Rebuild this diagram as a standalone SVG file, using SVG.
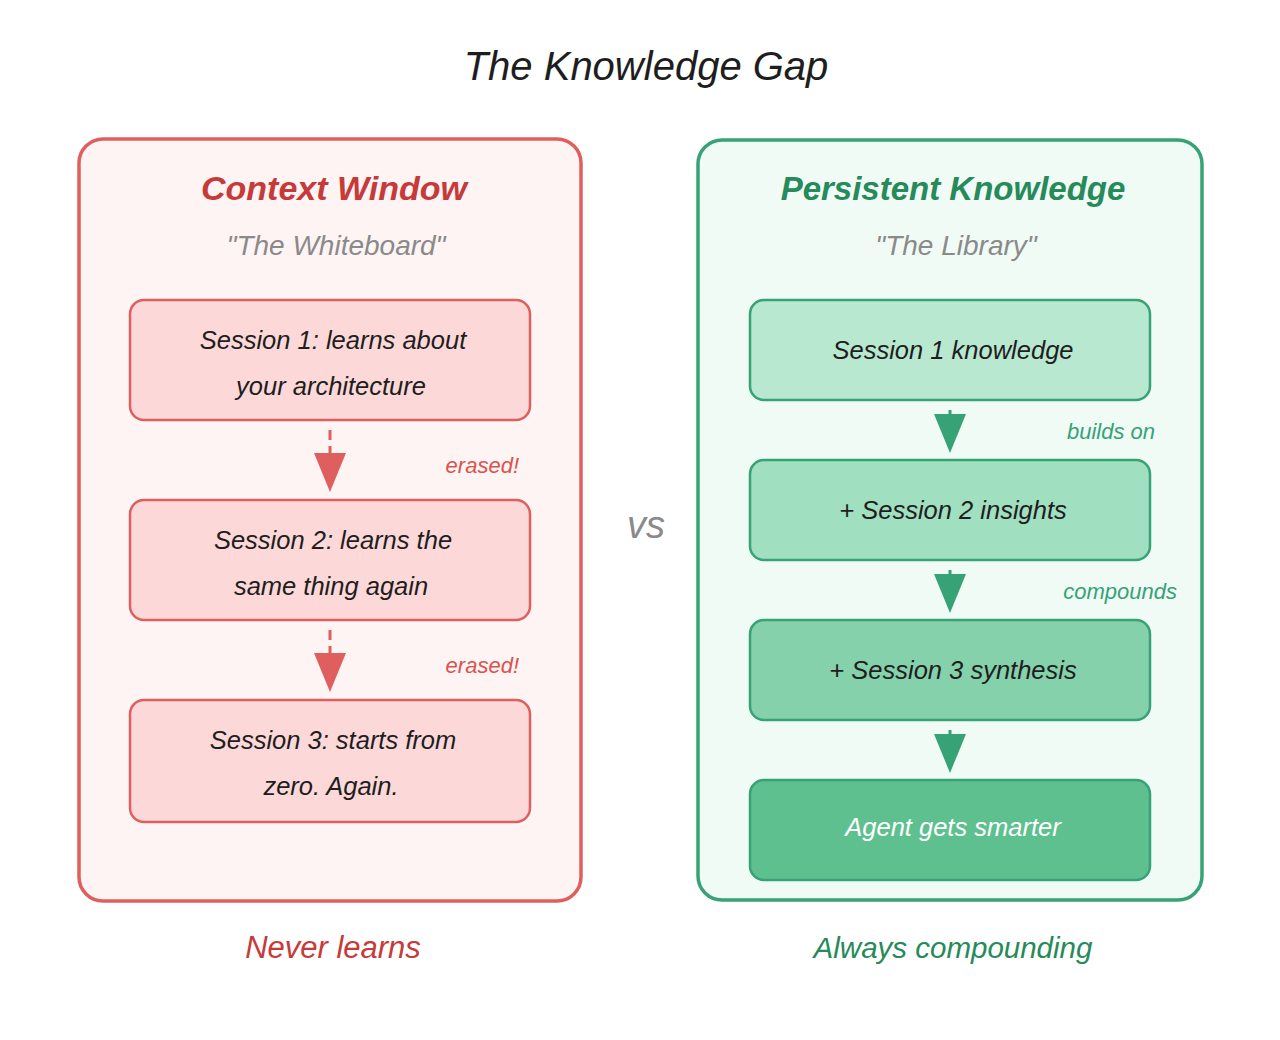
<svg xmlns="http://www.w3.org/2000/svg" width="1280" height="1040" viewBox="0 0 1280 1040">
<style>
text{font-family:"Liberation Sans","Noto Sans",Arial,sans-serif;font-style:italic;text-anchor:middle}
.title{font-size:40px;fill:#1e1e1e}
.redh{font-size:34px;fill:#c63a3a;font-weight:bold}
.greenh{font-size:33px;fill:#268a5a;font-weight:bold}
.sub{font-size:28px;fill:#8a8a8a}
.body{font-size:25.5px;fill:#1e1e1e}
.rlab{font-size:22px;fill:#d9534f;text-anchor:end}
.glab{font-size:22px;fill:#36a276;text-anchor:end}
.rfoot{font-size:31px;fill:#c63a3a}
.gfoot{font-size:29.5px;fill:#268a5a}
.vs{font-size:38px;fill:#8a8a8a}
.rbox{fill:#fdd8d8;stroke:#df5f5f;stroke-width:2.5}
.gbox{stroke:#36a276;stroke-width:2.5}
.rhead{fill:#df5f5f}
.ghead{fill:#36a276}
</style>
<rect width="1280" height="1040" fill="#ffffff"/>
<text class="title" x="646" y="80">The Knowledge Gap</text>

<g id="left-panel">
<rect x="79" y="139" width="502" height="762" rx="24" fill="#fff4f4" stroke="#df5f5f" stroke-width="3.5"/>
<text class="redh" x="334" y="200">Context Window</text>
<text class="sub" x="336" y="255">"The Whiteboard"</text>
</g>
<g id="r1">
<rect class="rbox" x="130" y="300" width="400" height="120" rx="14"/>
<text class="body" x="333" y="349">Session 1: learns about</text>
<text class="body" x="331" y="395">your architecture</text>
</g>
<g id="r2">
<rect class="rbox" x="130" y="500" width="400" height="120" rx="14"/>
<text class="body" x="333" y="549">Session 2: learns the</text>
<text class="body" x="331" y="595">same thing again</text>
</g>
<g id="r3">
<rect class="rbox" x="130" y="700" width="400" height="122" rx="14"/>
<text class="body" x="333" y="749">Session 3: starts from</text>
<text class="body" x="331" y="795">zero. Again.</text>
</g>
<g id="right-panel">
<rect x="698" y="140" width="504" height="760" rx="24" fill="#f0fbf6" stroke="#36a276" stroke-width="3.5"/>
<text class="greenh" x="953" y="200">Persistent Knowledge</text>
<text class="sub" x="956" y="255">"The Library"</text>
</g>
<g id="g1">
<rect class="gbox" x="750" y="300" width="400" height="100" rx="14" fill="#b9e8d1"/>
<text class="body" x="953" y="359">Session 1 knowledge</text>
</g>
<g id="g2">
<rect class="gbox" x="750" y="460" width="400" height="100" rx="14" fill="#a0dfbf"/>
<text class="body" x="953" y="519">+ Session 2 insights</text>
</g>
<g id="g3">
<rect class="gbox" x="750" y="620" width="400" height="100" rx="14" fill="#84d1ab"/>
<text class="body" x="953" y="679">+ Session 3 synthesis</text>
</g>
<g id="g4">
<rect class="gbox" x="750" y="780" width="400" height="100" rx="14" fill="#5fc08f"/>
<text class="body" x="953" y="836" style="fill:#ffffff">Agent gets smarter</text>
</g>
<g id="connectors">
<line x1="330" y1="430" x2="330" y2="458" stroke="#df5f5f" stroke-width="3" stroke-dasharray="10,6"/>
<polygon class="rhead" points="314,453 346,453 330,492"/>
<line x1="330" y1="630" x2="330" y2="658" stroke="#df5f5f" stroke-width="3" stroke-dasharray="10,6"/>
<polygon class="rhead" points="314,653 346,653 330,692"/>
<line x1="950" y1="410" x2="950" y2="416" stroke="#36a276" stroke-width="3"/>
<polygon class="ghead" points="934,414 966,414 950,453"/>
<line x1="950" y1="570" x2="950" y2="576" stroke="#36a276" stroke-width="3"/>
<polygon class="ghead" points="934,574 966,574 950,613"/>
<line x1="950" y1="730" x2="950" y2="736" stroke="#36a276" stroke-width="3"/>
<polygon class="ghead" points="934,734 966,734 950,773"/>
</g>
<text class="rlab" x="519" y="473">erased!</text>
<text class="rlab" x="519" y="673">erased!</text>
<text class="glab" x="1155" y="439">builds on</text>
<text class="glab" x="1177" y="599">compounds</text>
<text class="vs" x="646" y="538">vs</text>
<text class="rfoot" x="333" y="958">Never learns</text>
<text class="gfoot" x="953" y="958">Always compounding</text>
</svg>
